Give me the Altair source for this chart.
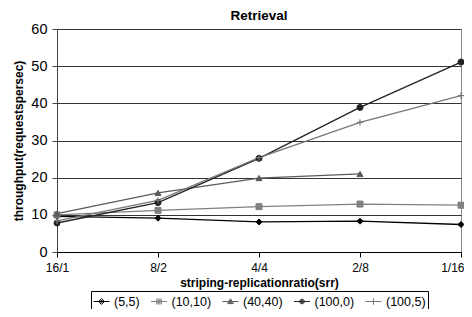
import altair as alt
import pandas as pd

CATEGORIES = ["16/1", "8/2", "4/4", "2/8", "1/16"]
SERIES = ["(5,5)", "(10,10)", "(40,40)", "(100,0)", "(100,5)"]
S_5_5 = [9.6, 9.1, 8.1, 8.3, 7.4]
S_10_10 = [10.0, 11.2, 12.2, 12.9, 12.6]
S_40_40 = [10.3, 15.9, 19.9, 21.0, None]
S_100_0 = [7.8, 13.3, 25.2, 38.9, 51.1]
S_100_5 = [8.4, 13.9, 25.4, 34.9, 42.1]
Y_TICKS = [0, 10, 20, 30, 40, 50, 60]

COLORS = ["#000000", "#808080", "#5a5a5a", "#222222", "#777777"]
PLOT_SHAPES = ["diamond", "square", "triangle-up", "circle", "M0,-1V1M-1,0H1"]
PLOT_FILLED = [True, True, True, True, False]
LEGEND_SHAPES = [
    "M-1,0H1M0,-0.36L0.36,0L0,0.36L-0.36,0ZM0,-0.18L0.18,0L0,0.18L-0.18,0Z",
    "M-1,0H1M-0.3,-0.3H0.3V0.3H-0.3ZM-0.15,-0.15H0.15V0.15H-0.15Z",
    "M-1,0H1M0,-0.34L0.36,0.26H-0.36ZM0,-0.14L0.16,0.14H-0.16Z",
    "M-1,0H1M0.3,0L0.21,0.21L0,0.3L-0.21,0.21L-0.3,0L-0.21,-0.21L0,-0.3L0.21,-0.21Z"
    "M0.14,0L0.1,0.1L0,0.14L-0.1,0.1L-0.14,0L-0.1,-0.1L0,-0.14L0.1,-0.1Z",
    "M-1,0H1M0,-0.4V0.4",
]

rows = []
for name, vals in zip(SERIES, [S_5_5, S_10_10, S_40_40, S_100_0, S_100_5]):
    for c, v in zip(CATEGORIES, vals):
        if v is not None:
            rows.append({"srr": c, "series": name, "v": v})
df = pd.DataFrame(rows)

FONT = "Liberation Sans"

x = alt.X(
    "srr:N", sort=CATEGORIES,
    scale=alt.Scale(type="point", padding=0, domain=CATEGORIES),
    axis=alt.Axis(title="striping-replicationratio(srr)", labelAngle=0, grid=False,
                  domainColor="#000000", tickColor="#000000", tickSize=5,
                  labelFontSize=12, labelPadding=5, labelColor="#000000",
                  labelAlign={"condition": {"test": "datum.value === '1/16'", "value": "right"},
                              "value": "center"},
                  labelOffset={"condition": {"test": "datum.value === '1/16'", "value": 3},
                               "value": 0},
                  titleFontSize=12, titleFontWeight="bold", titlePadding=4,
                  titleColor="#000000"),
)
y = alt.Y(
    "v:Q", scale=alt.Scale(domain=[0, 60], nice=False, zero=True),
    axis=alt.Axis(title="throughput(requestspersec)", values=Y_TICKS,
                  grid=True, gridColor="#333333", gridWidth=1,
                  domainColor="#444444", tickColor="#444444", tickSize=5,
                  labelFontSize=14.5, labelPadding=5, labelColor="#000000",
                  titleFontSize=12, titleFontWeight="bold", titlePadding=5,
                  titleColor="#000000"),
)

layers = []
for s, col in zip(SERIES, COLORS):
    layers.append(
        alt.Chart(df[df["series"] == s]).mark_line(stroke=col, strokeWidth=1.3).encode(x=x, y=y)
    )

for s, shp, col, filled in zip(SERIES, PLOT_SHAPES, COLORS, PLOT_FILLED):
    if filled:
        m = alt.Chart(df[df["series"] == s]).mark_point(
            shape=shp, filled=True, fill=col, stroke=col, strokeWidth=1, size=36, opacity=1)
    else:
        m = alt.Chart(df[df["series"] == s]).mark_point(
            shape=shp, filled=False, stroke=col, strokeWidth=1.2, size=40, opacity=1)
    layers.append(m.encode(x=x, y=y))

legend_props = dict(
    title=None, orient="none", legendX=34, legendY=262, direction="horizontal",
    columns=5, gridAlign="none", symbolSize=256, symbolStrokeWidth=1,
    symbolOpacity=1, labelFont=FONT, labelFontSize=12.5, labelColor="#000000",
    strokeColor="#000000", padding=2, columnPadding=8.5, labelOffset=4,
)

legend_layer = alt.Chart(df).mark_point(filled=False, size=256, opacity=0).encode(
    x=x, y=y,
    stroke=alt.Stroke("series:N", scale=alt.Scale(domain=SERIES, range=COLORS),
                      legend=alt.Legend(**legend_props)),
    shape=alt.Shape("series:N", scale=alt.Scale(domain=SERIES, range=LEGEND_SHAPES),
                    legend=alt.Legend(**legend_props)),
)
layers.append(legend_layer)

chart = (
    alt.layer(*layers)
    .properties(
        width=404, height=223,
        title=alt.TitleParams("Retrieval", fontSize=13.5, fontWeight="bold", font=FONT,
                              offset=7, dy=8, anchor="middle", color="#000000", frame="group"),
        autosize=alt.AutoSizeParams(type="none"),
        padding={"left": 49, "top": 21, "right": 3, "bottom": 57},
    )
    .configure(font=FONT)
    .configure_axis(labelFont=FONT, titleFont=FONT)
    .configure_view(stroke="#888888", strokeWidth=1)
)

chart.save("out.html", embed_options={"renderer": "svg", "actions": False})
